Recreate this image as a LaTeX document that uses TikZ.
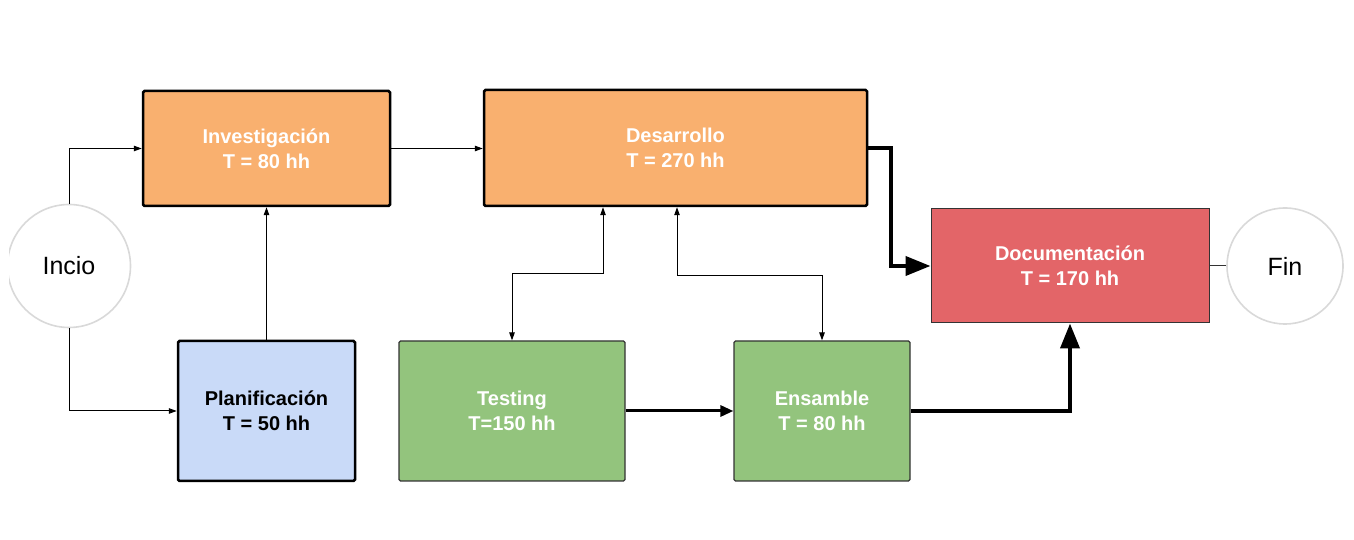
\documentclass[tikz,border=0pt]{standalone}
\usepackage{fontspec}
\setmainfont{Liberation Sans}
\usetikzlibrary{arrows.meta,calc}
\definecolor{orangebox}{HTML}{F9B06F}
\definecolor{bluebox}{HTML}{C9DAF8}
\definecolor{greenbox}{HTML}{93C47D}
\definecolor{redbox}{HTML}{E36568}
\definecolor{circgray}{HTML}{D9D9D9}
\definecolor{edgedark}{HTML}{333333}
\begin{document}
\begin{tikzpicture}[x=1pt,y=1pt,
  box/.style={rectangle, rounded corners=1.5pt, align=center, inner sep=0pt,
    font=\fontsize{20}{25}\selectfont\bfseries},
  heavy/.style={box, draw=black, line width=2.5pt},
  light/.style={box, draw=edgedark, line width=1.2pt},
  endcirc/.style={circle, draw=circgray, line width=1.6pt, fill=white, inner sep=0pt,
    font=\fontsize{25}{30}\selectfont},
  thin/.style={line width=1pt, -{Triangle[length=8pt,width=5.5pt]}},
  thinboth/.style={line width=1pt, {Triangle[length=8pt,width=5.5pt]}-{Triangle[length=8pt,width=5.5pt]}},
  mid/.style={line width=3pt, -{Triangle[length=13pt,width=11pt]}},
  thick/.style={line width=4pt, -{Triangle[length=25pt,width=19pt]}}
]
\useasboundingbox (0,0) rectangle (1354,540);

\begin{scope}
\clip (9,0) rectangle (1354,540);
\node[endcirc, minimum size=123pt] (incio) at (69,274) {Incio};
\end{scope}
\node[endcirc, minimum size=116pt] (fin) at (1285,274) {Fin};

\node[heavy, fill=orangebox, text=white, minimum width=247pt, minimum height=115pt] (inv) at (266.5,391.5) {Investigación\\T = 80 hh};
\node[heavy, fill=orangebox, text=white, minimum width=383pt, minimum height=116pt] (des) at (675.5,392) {Desarrollo\\T = 270 hh};
\node[heavy, fill=bluebox, text=black, minimum width=177pt, minimum height=140pt] (plan) at (266.5,129) {Planificación\\T = 50 hh};
\node[light, fill=greenbox, text=white, minimum width=226pt, minimum height=140pt] (test) at (512,129) {Testing\\T=150 hh};
\node[light, fill=greenbox, text=white, minimum width=176pt, minimum height=140pt] (ens) at (822,129) {Ensamble\\T = 80 hh};
\node[light, line width=1pt, rounded corners=0pt, fill=redbox, text=white, minimum width=278pt, minimum height=114pt] (doc) at (1070,274) {Documentación\\T = 170 hh};

\draw[thin] (incio.north) |- (inv.west);
\draw[thin] (incio.south) |- (plan.west);
\draw[thin] (plan.north) -- (inv.south);
\draw[thin] (inv.east) -- (des.west |- inv.east);
\draw[thick] (des.east) -- ++(23,0) |- (doc.west);
\draw[thinboth] ([xshift=-72.5pt]des.south) -- ++(0,-66) -| (test.north);
\draw[thinboth] ([xshift=1.5pt]des.south) -- ++(0,-68) -| (ens.north);
\draw[mid] (test.east) -- (ens.west);
\draw[thick] (ens.east) -| (doc.south);
\draw[line width=1pt, edgedark] (doc.east) -- (fin.west);
\end{tikzpicture}
\end{document}
